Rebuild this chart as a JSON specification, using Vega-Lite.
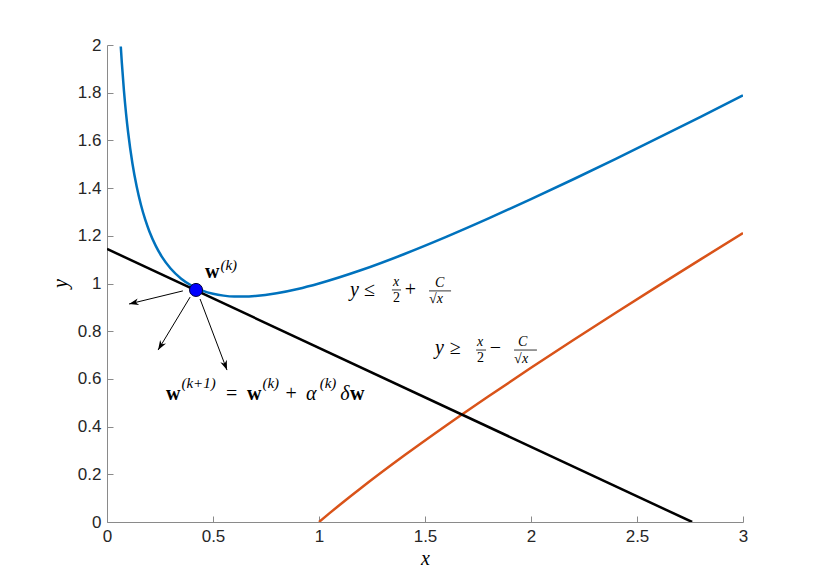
{
  "$schema": "https://vega.github.io/schema/vega-lite/v6.json",
  "width": 636,
  "height": 477,
  "autosize": {"type": "none"},
  "padding": {"left": 107, "top": 45, "right": 79, "bottom": 66},
  "background": "white",
  "config": {
    "view": {"stroke": null},
    "axis": {
      "grid": false,
      "domainColor": "#8a8a8a",
      "tickColor": "#8a8a8a",
      "domainWidth": 1,
      "tickWidth": 1,
      "tickSize": -6,
      "labelPadding": 12,
      "labelFont": "Liberation Sans",
      "labelFontSize": 17,
      "labelColor": "#262626",
      "labelFlush": false,
      "labelOverlap": false,
      "format": "~g",
      "titleFont": "Liberation Serif",
      "titleFontStyle": "italic",
      "titleFontWeight": "normal",
      "titleFontSize": 20,
      "titleColor": "#000000"
    }
  },
  "datasets": {
    "curves": [
      {"s": "upper", "x": 0.065, "y": 1.9937},
      {"s": "upper", "x": 0.07, "y": 1.9248},
      {"s": "upper", "x": 0.08, "y": 1.8078},
      {"s": "upper", "x": 0.09, "y": 1.7117},
      {"s": "upper", "x": 0.10, "y": 1.6311},
      {"s": "upper", "x": 0.12, "y": 1.5034},
      {"s": "upper", "x": 0.14, "y": 1.4063},
      {"s": "upper", "x": 0.16, "y": 1.33},
      {"s": "upper", "x": 0.18, "y": 1.2685},
      {"s": "upper", "x": 0.20, "y": 1.218},
      {"s": "upper", "x": 0.23, "y": 1.1576},
      {"s": "upper", "x": 0.26, "y": 1.1106},
      {"s": "upper", "x": 0.30, "y": 1.0629},
      {"s": "upper", "x": 0.35, "y": 1.0202},
      {"s": "upper", "x": 0.40, "y": 0.9906},
      {"s": "upper", "x": 0.45, "y": 0.9704},
      {"s": "upper", "x": 0.50, "y": 0.9571},
      {"s": "upper", "x": 0.55, "y": 0.9492},
      {"s": "upper", "x": 0.60, "y": 0.9455},
      {"s": "upper", "x": 0.65, "y": 0.9452},
      {"s": "upper", "x": 0.70, "y": 0.9476},
      {"s": "upper", "x": 0.80, "y": 0.959},
      {"s": "upper", "x": 0.90, "y": 0.977},
      {"s": "upper", "x": 1.0, "y": 1.0},
      {"s": "upper", "x": 1.2, "y": 1.0564},
      {"s": "upper", "x": 1.4, "y": 1.1226},
      {"s": "upper", "x": 1.6, "y": 1.1953},
      {"s": "upper", "x": 1.8, "y": 1.2727},
      {"s": "upper", "x": 2.0, "y": 1.3536},
      {"s": "upper", "x": 2.2, "y": 1.4371},
      {"s": "upper", "x": 2.4, "y": 1.5227},
      {"s": "upper", "x": 2.6, "y": 1.6101},
      {"s": "upper", "x": 2.8, "y": 1.6988},
      {"s": "upper", "x": 3.0, "y": 1.7887},
      {"s": "lower", "x": 1.0, "y": 0.0},
      {"s": "lower", "x": 1.05, "y": 0.0371},
      {"s": "lower", "x": 1.1, "y": 0.0733},
      {"s": "lower", "x": 1.2, "y": 0.1436},
      {"s": "lower", "x": 1.4, "y": 0.2774},
      {"s": "lower", "x": 1.6, "y": 0.4047},
      {"s": "lower", "x": 1.8, "y": 0.5273},
      {"s": "lower", "x": 2.0, "y": 0.6464},
      {"s": "lower", "x": 2.2, "y": 0.7629},
      {"s": "lower", "x": 2.4, "y": 0.8773},
      {"s": "lower", "x": 2.6, "y": 0.9899},
      {"s": "lower", "x": 2.8, "y": 1.1012},
      {"s": "lower", "x": 3.0, "y": 1.2113},
      {"s": "tangent", "x": 0.0, "y": 1.145},
      {"s": "tangent", "x": 2.76, "y": 0.0}
    ],
    "arrows": [
      {"x": 0.358, "y": 0.969, "x2": 0.104, "y2": 0.914},
      {"x": 0.392, "y": 0.943, "x2": 0.241, "y2": 0.721},
      {"x": 0.439, "y": 0.935, "x2": 0.566, "y2": 0.637}
    ],
    "marker": [{"x": 0.42, "y": 0.973}],
    "tex": [
      {"t": "w", "x": 0.462, "y": 1.023, "k": "bold"},
      {"t": "(k)", "x": 0.535, "y": 1.057, "k": "sup"},
      {"t": "y", "x": 1.146, "y": 0.948, "k": "ital"},
      {"t": "≤", "x": 1.212, "y": 0.948, "k": "main"},
      {"t": "x", "x": 1.349, "y": 0.99, "k": "fracital"},
      {"t": "2", "x": 1.349, "y": 0.922, "k": "frac"},
      {"t": "+", "x": 1.405, "y": 0.948, "k": "main"},
      {"t": "C", "x": 1.547, "y": 0.985, "k": "fracital"},
      {"t": "√", "x": 1.519, "y": 0.918, "k": "frac"},
      {"t": "x", "x": 1.556, "y": 0.918, "k": "fracital"},
      {"t": "y", "x": 1.547, "y": 0.704, "k": "ital"},
      {"t": "≥", "x": 1.617, "y": 0.704, "k": "main"},
      {"t": "x", "x": 1.745, "y": 0.738, "k": "fracital"},
      {"t": "2", "x": 1.745, "y": 0.671, "k": "frac"},
      {"t": "−", "x": 1.806, "y": 0.704, "k": "main"},
      {"t": "C", "x": 1.939, "y": 0.738, "k": "fracital"},
      {"t": "√", "x": 1.92, "y": 0.667, "k": "frac"},
      {"t": "x", "x": 1.957, "y": 0.667, "k": "fracital"},
      {"t": "w", "x": 0.278, "y": 0.5115, "k": "bold"},
      {"t": "(k+1)", "x": 0.351, "y": 0.56, "k": "sup"},
      {"t": "=", "x": 0.561, "y": 0.5115, "k": "main"},
      {"t": "w", "x": 0.66, "y": 0.5115, "k": "bold"},
      {"t": "(k)", "x": 0.733, "y": 0.56, "k": "sup"},
      {"t": "+", "x": 0.842, "y": 0.5115, "k": "main"},
      {"t": "α", "x": 0.939, "y": 0.5115, "k": "ital"},
      {"t": "(k)", "x": 1.003, "y": 0.56, "k": "sup"},
      {"t": "δ", "x": 1.1, "y": 0.5115, "k": "ital"},
      {"t": "w", "x": 1.146, "y": 0.5115, "k": "bold"}
    ],
    "bars": [
      {"x": 1.344, "x2": 1.387, "y": 0.973},
      {"x": 1.519, "x2": 1.623, "y": 0.969},
      {"x": 1.741, "x2": 1.788, "y": 0.721},
      {"x": 1.92, "x2": 2.028, "y": 0.721}
    ]
  },
  "layer": [
    {
      "data": {"name": "curves"},
      "mark": {"type": "line", "strokeWidth": 2.5, "interpolate": "monotone", "clip": true},
      "encoding": {
        "x": {
          "field": "x", "type": "quantitative",
          "scale": {"domain": [0, 3], "nice": false},
          "axis": {"values": [0, 0.5, 1, 1.5, 2, 2.5, 3], "title": "x", "titleX": 318, "titleY": 36, "titleBaseline": "middle"}
        },
        "y": {
          "field": "y", "type": "quantitative",
          "scale": {"domain": [0, 2], "nice": false},
          "axis": {"values": [0, 0.2, 0.4, 0.6, 0.8, 1, 1.2, 1.4, 1.6, 1.8, 2], "title": "y", "titleX": -47, "titleY": 238, "titleBaseline": "middle", "titleAngle": -90}
        },
        "color": {
          "field": "s", "type": "nominal",
          "scale": {"domain": ["upper", "lower", "tangent"], "range": ["#0072BD", "#D95319", "#000000"]},
          "legend": null
        },
        "order": {"field": "x", "type": "quantitative"}
      }
    },
    {
      "data": {"name": "arrows"},
      "mark": {"type": "rule", "color": "#000000", "strokeWidth": 1},
      "encoding": {
        "x": {"field": "x", "type": "quantitative"},
        "y": {"field": "y", "type": "quantitative"},
        "x2": {"field": "x2"},
        "y2": {"field": "y2"}
      }
    },
    {
      "data": {"name": "arrows"},
      "transform": [
        {"calculate": "atan2((datum.x2 - datum.x) * 212, (datum.y2 - datum.y) * 238.5) * 180 / PI", "as": "ang"}
      ],
      "mark": {
        "type": "point",
        "shape": "M0,0 L-0.5,1.4 L0,1.0 L0.5,1.4 Z",
        "filled": true,
        "color": "#000000",
        "opacity": 1,
        "size": 190
      },
      "encoding": {
        "x": {"field": "x2", "type": "quantitative"},
        "y": {"field": "y2", "type": "quantitative"},
        "angle": {"field": "ang", "type": "quantitative", "scale": null}
      }
    },
    {
      "data": {"name": "marker"},
      "mark": {"type": "point", "shape": "circle", "filled": true, "fill": "#0000FF", "stroke": "#000033", "strokeWidth": 1, "opacity": 1, "size": 170},
      "encoding": {
        "x": {"field": "x", "type": "quantitative"},
        "y": {"field": "y", "type": "quantitative"}
      }
    },
    {
      "data": {"name": "tex"},
      "transform": [{"filter": "datum.k == 'main'"}],
      "mark": {"type": "text", "align": "left", "baseline": "alphabetic", "font": "Liberation Serif", "fontSize": 20, "color": "#000000"},
      "encoding": {
        "x": {"field": "x", "type": "quantitative"},
        "y": {"field": "y", "type": "quantitative"},
        "text": {"field": "t"}
      }
    },
    {
      "data": {"name": "tex"},
      "transform": [{"filter": "datum.k == 'ital'"}],
      "mark": {"type": "text", "align": "left", "baseline": "alphabetic", "font": "Liberation Serif", "fontStyle": "italic", "fontSize": 20, "color": "#000000"},
      "encoding": {
        "x": {"field": "x", "type": "quantitative"},
        "y": {"field": "y", "type": "quantitative"},
        "text": {"field": "t"}
      }
    },
    {
      "data": {"name": "tex"},
      "transform": [{"filter": "datum.k == 'bold'"}],
      "mark": {"type": "text", "align": "left", "baseline": "alphabetic", "font": "Liberation Serif", "fontWeight": "bold", "fontSize": 20, "color": "#000000"},
      "encoding": {
        "x": {"field": "x", "type": "quantitative"},
        "y": {"field": "y", "type": "quantitative"},
        "text": {"field": "t"}
      }
    },
    {
      "data": {"name": "tex"},
      "transform": [{"filter": "datum.k == 'sup'"}],
      "mark": {"type": "text", "align": "left", "baseline": "alphabetic", "font": "Liberation Serif", "fontStyle": "italic", "fontSize": 15, "color": "#000000"},
      "encoding": {
        "x": {"field": "x", "type": "quantitative"},
        "y": {"field": "y", "type": "quantitative"},
        "text": {"field": "t"}
      }
    },
    {
      "data": {"name": "tex"},
      "transform": [{"filter": "datum.k == 'frac'"}],
      "mark": {"type": "text", "align": "left", "baseline": "alphabetic", "font": "Liberation Serif", "fontSize": 14, "color": "#000000"},
      "encoding": {
        "x": {"field": "x", "type": "quantitative"},
        "y": {"field": "y", "type": "quantitative"},
        "text": {"field": "t"}
      }
    },
    {
      "data": {"name": "tex"},
      "transform": [{"filter": "datum.k == 'fracital'"}],
      "mark": {"type": "text", "align": "left", "baseline": "alphabetic", "font": "Liberation Serif", "fontStyle": "italic", "fontSize": 14, "color": "#000000"},
      "encoding": {
        "x": {"field": "x", "type": "quantitative"},
        "y": {"field": "y", "type": "quantitative"},
        "text": {"field": "t"}
      }
    },
    {
      "data": {"name": "bars"},
      "mark": {"type": "rule", "color": "#000000", "strokeWidth": 0.8},
      "encoding": {
        "x": {"field": "x", "type": "quantitative"},
        "x2": {"field": "x2"},
        "y": {"field": "y", "type": "quantitative"}
      }
    }
  ]
}
